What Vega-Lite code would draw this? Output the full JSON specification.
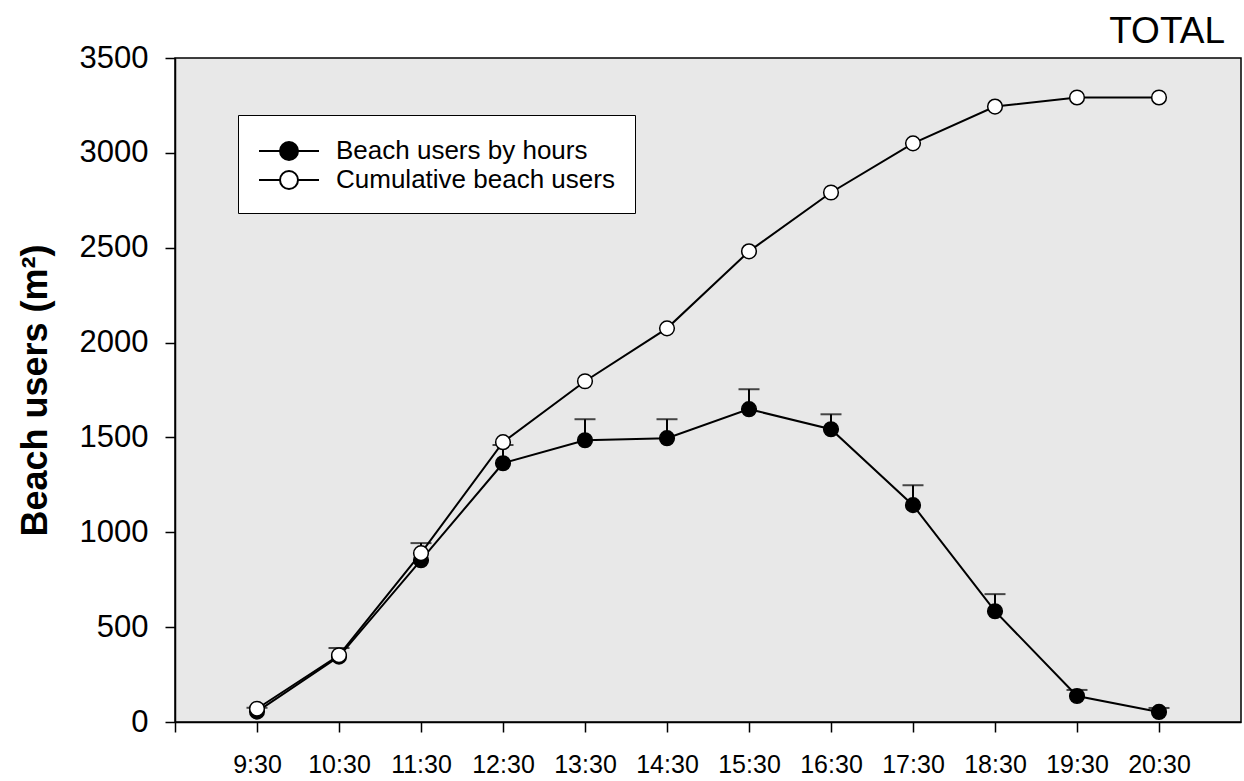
{
  "$schema": "https://vega.github.io/schema/vega-lite/v6.json",
  "width": 1066,
  "height": 664,
  "autosize": "none",
  "padding": {"left": 175, "top": 58, "right": 3, "bottom": 59},
  "background": "white",
  "title": {
    "text": "TOTAL",
    "anchor": "end",
    "font": "Liberation Sans",
    "fontSize": 37,
    "fontWeight": "normal",
    "color": "black",
    "baseline": "alphabetic",
    "offset": -38,
    "dx": -16
  },
  "datasets": {
    "readings": [
      {"time": "9:30", "hour": 9.5, "series": "Beach users by hours", "users": 55, "upper": 75},
      {"time": "10:30", "hour": 10.5, "series": "Beach users by hours", "users": 345, "upper": 390},
      {"time": "11:30", "hour": 11.5, "series": "Beach users by hours", "users": 853, "upper": 943},
      {"time": "12:30", "hour": 12.5, "series": "Beach users by hours", "users": 1364, "upper": 1460},
      {"time": "13:30", "hour": 13.5, "series": "Beach users by hours", "users": 1485, "upper": 1596},
      {"time": "14:30", "hour": 14.5, "series": "Beach users by hours", "users": 1496, "upper": 1596},
      {"time": "15:30", "hour": 15.5, "series": "Beach users by hours", "users": 1649, "upper": 1754},
      {"time": "16:30", "hour": 16.5, "series": "Beach users by hours", "users": 1543, "upper": 1622},
      {"time": "17:30", "hour": 17.5, "series": "Beach users by hours", "users": 1143, "upper": 1248},
      {"time": "18:30", "hour": 18.5, "series": "Beach users by hours", "users": 584, "upper": 674},
      {"time": "19:30", "hour": 19.5, "series": "Beach users by hours", "users": 137, "upper": 169},
      {"time": "20:30", "hour": 20.5, "series": "Beach users by hours", "users": 53, "upper": 74},
      {"time": "9:30", "hour": 9.5, "series": "Cumulative beach users", "users": 70},
      {"time": "10:30", "hour": 10.5, "series": "Cumulative beach users", "users": 352},
      {"time": "11:30", "hour": 11.5, "series": "Cumulative beach users", "users": 890},
      {"time": "12:30", "hour": 12.5, "series": "Cumulative beach users", "users": 1475},
      {"time": "13:30", "hour": 13.5, "series": "Cumulative beach users", "users": 1796},
      {"time": "14:30", "hour": 14.5, "series": "Cumulative beach users", "users": 2075},
      {"time": "15:30", "hour": 15.5, "series": "Cumulative beach users", "users": 2481},
      {"time": "16:30", "hour": 16.5, "series": "Cumulative beach users", "users": 2791},
      {"time": "17:30", "hour": 17.5, "series": "Cumulative beach users", "users": 3050},
      {"time": "18:30", "hour": 18.5, "series": "Cumulative beach users", "users": 3244},
      {"time": "19:30", "hour": 19.5, "series": "Cumulative beach users", "users": 3292},
      {"time": "20:30", "hour": 20.5, "series": "Cumulative beach users", "users": 3292}
    ]
  },
  "data": {"name": "readings"},
  "encoding": {
    "x": {
      "field": "hour",
      "type": "quantitative",
      "scale": {"domain": [8.5, 21.5], "nice": false, "zero": false},
      "axis": {
        "title": null,
        "values": [8.5, 9.5, 10.5, 11.5, 12.5, 13.5, 14.5, 15.5, 16.5, 17.5, 18.5, 19.5, 20.5],
        "labelExpr": "datum.value < 9 ? '' : floor(datum.value) + ':30'",
        "labelFontSize": 25,
        "labelPadding": 20,
        "tickSize": 10
      }
    },
    "y": {
      "field": "users",
      "type": "quantitative",
      "scale": {"domain": [0, 3500], "nice": false},
      "axis": {
        "title": "Beach users (m²)",
        "values": [0, 500, 1000, 1500, 2000, 2500, 3000, 3500],
        "format": "d",
        "labelFontSize": 31,
        "labelPadding": 17,
        "tickSize": 10,
        "titleFontSize": 36,
        "titleFontWeight": "bold",
        "titlePadding": 25
      }
    }
  },
  "layer": [
    {
      "mark": {"type": "line", "color": "black", "strokeWidth": 2},
      "encoding": {"detail": {"field": "series", "type": "nominal"}}
    },
    {
      "transform": [{"filter": "datum.upper != null"}],
      "mark": {"type": "rule", "color": "black", "strokeWidth": 2},
      "encoding": {"y2": {"field": "upper"}}
    },
    {
      "transform": [{"filter": "datum.upper != null"}],
      "mark": {"type": "tick", "orient": "horizontal", "color": "black", "size": 21, "thickness": 2},
      "encoding": {"y": {"field": "upper", "type": "quantitative"}}
    },
    {
      "mark": {"type": "point", "shape": "circle", "filled": true, "size": 215, "stroke": "black", "strokeWidth": 1.5, "opacity": 1},
      "encoding": {
        "fill": {
          "field": "series",
          "type": "nominal",
          "scale": {"domain": ["Beach users by hours", "Cumulative beach users"], "range": ["black", "white"]},
          "legend": {
            "title": null,
            "orient": "none",
            "legendX": 63,
            "legendY": 57,
            "symbolType": "M-1,0H0.4M1.6,0H3M1.6,0A0.6,0.6 0 1,1 0.4,0A0.6,0.6 0 1,1 1.6,0Z",
            "symbolSize": 900,
            "symbolStrokeColor": "black",
            "symbolStrokeWidth": 2,
            "symbolOpacity": 1,
            "labelFontSize": 26,
            "labelOffset": 46,
            "rowPadding": -1,
            "padding": 20,
            "strokeColor": "black",
            "fillColor": "white"
          }
        }
      }
    }
  ],
  "config": {
    "font": "Liberation Sans",
    "view": {"fill": "#e8e8e8", "stroke": "black", "strokeWidth": 1.5},
    "axis": {
      "grid": false,
      "domainColor": "black",
      "domainWidth": 1.5,
      "tickColor": "black",
      "tickWidth": 1.5,
      "labelColor": "black",
      "titleColor": "black",
      "labelFont": "Liberation Sans",
      "titleFont": "Liberation Sans"
    },
    "legend": {"labelFont": "Liberation Sans", "labelColor": "black", "labelLimit": 0}
  }
}
